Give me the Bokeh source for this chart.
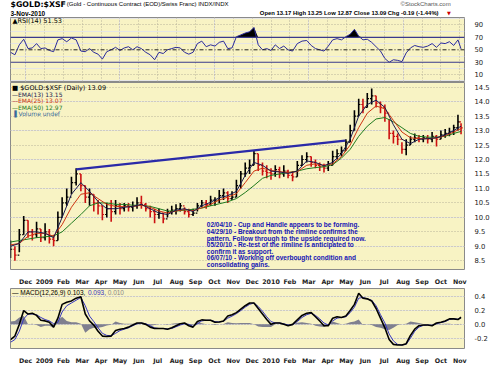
import numpy as np
import pandas as pd
from bokeh.plotting import figure
from bokeh.layouts import column
from bokeh.models import FixedTicker, Range1d, Label, Grid, Span, NumeralTickFormatter, LinearAxis
from bokeh.embed import file_html
from bokeh.resources import INLINE
from bokeh.core.properties import value

# ---------------- data ----------------
week_dates = list(pd.date_range("2008-11-07", "2010-10-29", freq="7D")) + [pd.Timestamp("2010-11-03")]

close = [8.9, 8.7, 9.4, 9.9, 9.5, 9.4, 9.6, 9.3, 9.5, 9.25,
         9.2, 10.0, 10.5, 10.7, 11.2, 11.5, 11.1, 10.7, 10.8, 10.5,
         10.4, 10.1, 10.3, 10.2, 10.4, 10.3, 10.4, 10.35, 10.4, 10.5,
         10.45, 10.3, 10.2, 10.1, 10.15, 9.95, 10.2, 10.25, 10.3, 10.4,
         10.2, 10.1, 10.15, 10.4, 10.5, 10.45, 10.6, 10.6, 10.75, 10.85,
         10.65, 10.7, 11.1, 11.5, 11.7, 11.8, 12.2, 11.8, 11.6, 11.55,
         11.5, 11.65, 11.5, 11.6, 11.45, 11.4, 11.8, 12.0, 12.1, 11.9,
         11.8, 11.75, 11.7, 11.8, 12.1, 12.2, 12.3, 12.6, 13.0, 13.5,
         13.9, 13.8, 14.1, 14.2, 13.95, 13.8, 13.6, 12.9, 12.8, 12.7,
         12.35, 12.5, 12.7, 12.75, 12.7, 12.75, 12.7, 12.8, 12.7, 12.85,
         12.9, 12.95, 13.1, 13.3, 13.09]
high = [9.2, 9.0, 9.6, 10.05, 9.9, 9.6, 9.85, 9.6, 9.8, 9.6,
        9.4, 10.2, 10.7, 11.0, 11.4, 11.7, 11.5, 11.1, 11.0, 10.8,
        10.6, 10.4, 10.5, 10.6, 10.6, 10.5, 10.5, 10.5, 10.55, 10.7,
        10.75, 10.5, 10.4, 10.3, 10.3, 10.15, 10.3, 10.4, 10.45, 10.5,
        10.35, 10.3, 10.3, 10.5, 10.6, 10.6, 10.75, 10.7, 10.95, 11.0,
        10.9, 10.9, 11.3, 11.6, 11.9, 12.0, 12.3, 12.2, 11.9, 11.8,
        11.7, 11.8, 11.75, 11.8, 11.65, 11.6, 11.95, 12.15, 12.25, 12.1,
        12.0, 11.9, 11.85, 11.95, 12.3, 12.35, 12.45, 12.7, 13.2, 13.7,
        14.1, 14.1, 14.3, 14.45, 14.2, 14.0, 13.9, 13.4, 13.0, 12.9,
        12.6, 12.7, 12.8, 12.9, 12.85, 12.85, 12.85, 12.95, 12.85, 13.0,
        13.05, 13.1, 13.2, 13.55, 13.25]
low = [8.6, 8.5, 8.8, 9.4, 9.3, 9.2, 9.3, 9.15, 9.2, 9.1,
       9.0, 9.2, 10.0, 10.4, 10.8, 11.1, 10.9, 10.5, 10.4, 10.2,
       10.1, 9.9, 10.0, 9.85, 10.1, 10.1, 10.2, 10.2, 10.2, 10.3,
       10.3, 10.2, 10.0, 9.8, 9.95, 9.8, 10.0, 10.1, 10.1, 10.2,
       10.1, 10.0, 10.05, 10.2, 10.35, 10.3, 10.4, 10.4, 10.5, 10.6,
       10.5, 10.6, 10.7, 11.0, 11.4, 11.5, 11.8, 11.6, 11.45, 11.35,
       11.3, 11.4, 11.35, 11.4, 11.35, 11.25, 11.4, 11.8, 11.9, 11.75,
       11.7, 11.6, 11.55, 11.6, 11.8, 12.0, 12.1, 12.3, 12.6, 13.0,
       13.5, 13.6, 13.8, 13.9, 13.8, 13.6, 13.3, 12.7, 12.55, 12.5,
       12.2, 12.15, 12.5, 12.6, 12.6, 12.6, 12.55, 12.6, 12.45, 12.7,
       12.75, 12.8, 12.85, 13.0, 12.87]

ema_dates = week_dates[::2]
ema13 = [9.0, 9.1, 9.5, 9.5, 9.45, 9.3, 10.0, 10.8, 11.2, 10.9,
         10.55, 10.3, 10.3, 10.35, 10.38, 10.45, 10.3, 10.15, 10.1, 10.25,
         10.3, 10.2, 10.4, 10.52, 10.68, 10.75, 10.9, 11.45, 11.9, 11.8,
         11.6, 11.57, 11.52, 11.6, 11.95, 11.9, 11.78, 11.9, 12.2, 12.7,
         13.5, 13.9, 14.05, 13.8, 13.2, 12.7, 12.55, 12.7, 12.72, 12.75,
         12.85, 13.0, 13.15]
ema25 = [9.05, 9.1, 9.35, 9.45, 9.45, 9.35, 9.75, 10.35, 10.8, 10.85,
         10.65, 10.45, 10.38, 10.37, 10.38, 10.42, 10.35, 10.22, 10.15, 10.22,
         10.27, 10.23, 10.33, 10.45, 10.6, 10.7, 10.82, 11.2, 11.6, 11.7,
         11.62, 11.58, 11.55, 11.58, 11.8, 11.85, 11.8, 11.85, 12.1, 12.5,
         13.1, 13.6, 13.85, 13.75, 13.35, 12.95, 12.75, 12.72, 12.72, 12.74,
         12.82, 12.95, 13.07]
ema50 = [9.15, 9.2, 9.25, 9.3, 9.33, 9.36, 9.5, 9.8, 10.1, 10.4,
         10.5, 10.5, 10.45, 10.45, 10.42, 10.42, 10.38, 10.3, 10.22, 10.22,
         10.25, 10.28, 10.32, 10.4, 10.47, 10.54, 10.65, 10.86, 11.1, 11.35,
         11.45, 11.5, 11.55, 11.6, 11.68, 11.72, 11.75, 11.82, 12.05, 12.35,
         12.8, 13.15, 13.4, 13.45, 13.3, 13.1, 12.9, 12.8, 12.77, 12.77,
         12.8, 12.9, 12.97]

rsi = [46, 42, 58, 67, 52, 53, 60, 52, 53, 49,
       47, 66, 68, 63, 69, 66, 48, 47, 52, 46,
       43, 35, 47, 50, 54, 49, 53, 55, 50, 55,
       52, 46, 42, 34, 46, 44, 50, 52, 54, 53,
       46, 43, 46, 60, 64, 55, 58, 56, 62, 64,
       52, 53, 71, 74, 77, 79, 86, 58, 50, 52,
       49, 58, 52, 56, 50, 48, 60, 64, 65, 57,
       52, 50, 48, 56, 66, 68, 66, 71, 75, 83,
       72, 66, 67, 62, 55, 48, 36, 30, 34, 33,
       31, 45, 53, 57, 55, 54, 56, 60, 54, 61,
       60, 63, 57, 66, 51.53]

macd = [-0.22, -0.17, 0.0, 0.2, 0.15, 0.16, 0.13, 0.06, 0.05, 0.03,
        -0.04, 0.09, 0.29, 0.32, 0.34, 0.38, 0.40, 0.15, 0.05, -0.01,
        -0.1, -0.17, -0.175, -0.17, -0.09, -0.07, -0.06, -0.04, -0.01, 0.02,
        0.02, 0.0, -0.04, -0.06, -0.06, -0.06, -0.07, -0.05, -0.02, 0.01,
        0.02, -0.02, -0.04, 0.04, 0.065, 0.06, 0.06, 0.03, 0.035, 0.05,
        0.12, 0.14, 0.17, 0.22, 0.27, 0.31, 0.31, 0.23, 0.15, 0.07,
        0.0, 0.02, 0.02, 0.0, -0.02, 0.0, 0.065, 0.13, 0.16, 0.17,
        0.11, 0.05, -0.02, -0.02, 0.09, 0.11, 0.1, 0.12, 0.2, 0.29,
        0.45, 0.38, 0.37, 0.34, 0.23, 0.09, -0.05, -0.22, -0.29, -0.3,
        -0.3, -0.28, -0.16, -0.07, -0.02, -0.01, -0.01, -0.02, 0.02, 0.03,
        0.05, 0.08, 0.08, 0.07, 0.103]
signal = [-0.26, -0.22, -0.1, 0.08, 0.15, 0.15, 0.14, 0.1, 0.07, 0.05,
          0.01, 0.03, 0.18, 0.27, 0.31, 0.35, 0.39, 0.27, 0.12, 0.04,
          -0.05, -0.13, -0.16, -0.165, -0.13, -0.09, -0.07, -0.05, -0.02, 0.01,
          0.02, 0.01, -0.02, -0.05, -0.06, -0.06, -0.065, -0.06, -0.035, -0.01,
          0.01, 0.0, -0.03, 0.01, 0.05, 0.06, 0.06, 0.04, 0.035, 0.045,
          0.09, 0.12, 0.155, 0.2, 0.25, 0.29, 0.31, 0.26, 0.19, 0.11,
          0.04, 0.02, 0.02, 0.01, -0.01, -0.005, 0.04, 0.1, 0.14, 0.16,
          0.13, 0.08, 0.02, -0.01, 0.05, 0.09, 0.1, 0.11, 0.17, 0.25,
          0.38, 0.39, 0.37, 0.35, 0.27, 0.14, 0.02, -0.14, -0.24, -0.29,
          -0.3, -0.29, -0.2, -0.1, -0.04, -0.015, -0.01, -0.015, 0.01, 0.025,
          0.04, 0.07, 0.08, 0.075, 0.093]

rim_dates = [pd.Timestamp("2009-02-20"), pd.Timestamp("2010-04-29")]
rim_values = [11.66, 12.65]

month_labels = ["Dec", "2009", "Feb", "Mar", "Apr", "May", "Jun", "Jul", "Aug", "Sep", "Oct", "Nov",
                "Dec", "2010", "Feb", "Mar", "Apr", "May", "Jun", "Jul", "Aug", "Sep", "Oct", "Nov"]
rsi_ticks = [10, 30, 50, 70, 90]
price_ticks = [8.5, 9.0, 9.5, 10.0, 10.5, 11.0, 11.5, 12.0, 12.5, 13.0, 13.5, 14.0, 14.5]
macd_ticks = [-0.2, 0.0, 0.2, 0.4]

notes = ["02/04/10 - Cup and Handle appears to be forming.",
         "04/29/10 - Breakout from the rimline confirms the",
         "pattern.  Follow through to the upside required now.",
         "05/20/10 - Re-test of the rimline is anticipated to",
         "confirm it as support.",
         "06/07/10 - Working off overbought condition and",
         "consolidating gains."]

# --------------- helpers ---------------
def mpos(d):
    d = pd.Timestamp(d)
    return (d.year - 2008) * 12 + (d.month - 12) + (d.day - 1) / d.days_in_month

x = np.array([mpos(d) for d in week_dates])
xe = np.array([mpos(d) for d in ema_dates])
close_a = np.array(close); high_a = np.array(high); low_a = np.array(low)
month_ticks = list(range(len(month_labels)))

BG = "#f8f3c4"
GRID = "#b8b39a"
FONT = value("DejaVu Sans")
W = 492
xr = Range1d(-0.8, 23.25)


def style_yaxis(ax):
    ax.axis_line_color = None
    ax.major_tick_line_color = None
    ax.minor_tick_line_color = None
    ax.major_label_text_font = "DejaVu Sans"
    ax.major_label_text_font_size = "6.8px"
    ax.major_label_text_color = "#222222"
    ax.major_label_standoff = 4


def panel(height, yr, xaxis, top=0, bottom=0):
    p = figure(width=W, height=height, x_range=xr, y_range=yr, toolbar_location=None,
               output_backend="svg", x_axis_location="below" if xaxis else None,
               y_axis_location=None, min_border_left=10, min_border_right=24,
               min_border_top=top, min_border_bottom=bottom,
               background_fill_color=BG, border_fill_color="white")
    p.outline_line_color = "#8a8a8a"
    p.add_layout(Grid(dimension=0, ticker=FixedTicker(ticks=month_ticks),
                      grid_line_color=GRID, grid_line_dash="1 2", grid_line_width=1))
    ax = LinearAxis()
    style_yaxis(ax)
    p.add_layout(ax, "right")
    if xaxis:
        p.xgrid.visible = False
        xa = p.xaxis[0]
        xa.ticker = FixedTicker(ticks=month_ticks)
        xa.major_label_overrides = {i: l for i, l in enumerate(month_labels)}
        xa.axis_line_color = None
        xa.major_tick_line_color = None
        xa.minor_tick_line_color = None
        xa.major_label_text_font = "DejaVu Sans"
        xa.major_label_text_font_style = "bold"
        xa.major_label_text_font_size = "6.3px"
        xa.major_label_text_color = "#222222"
        xa.major_label_standoff = 2
    return p, ax

# --------------- header ---------------
hdr = figure(width=W, height=17, x_range=(0, W), y_range=(0, 17), toolbar_location=None,
             output_backend="svg", x_axis_location=None, y_axis_location=None,
             min_border=0, outline_line_color=None)
hdr.grid.visible = False
hdr.text(x=[0], y=[17.5], text=["$GOLD:$XSF"], text_font=FONT, text_font_style="bold",
         text_font_size="7.8px", text_baseline="top", text_color="black")
hdr.text(x=[61], y=[16.5], text=["(Gold - Continuous Contract (EOD)/Swiss Franc) INDX/INDX"],
         text_font=value("Liberation Sans"), text_font_size="6px", text_baseline="top", text_color="black")
hdr.text(x=[0], y=[7.5], text=["3-Nov-2010"], text_font=value("Liberation Sans"), text_font_style="bold",
         text_font_size="6.5px", text_baseline="top", text_color="black")
hdr.text(x=[477], y=[17], text=["\u00a9StockCharts.com"], text_font=value("Liberation Sans"),
         text_font_size="6px", text_align="right", text_baseline="top", text_color="#555555")
hdr.text(x=[471], y=[7.5], text=["Open 13.17  High 13.25  Low 12.87  Close 13.09  Chg -0.19 (-1.44%)"],
         text_font=value("Liberation Sans"), text_font_style="bold", text_font_size="5.9px",
         text_align="right", text_baseline="top", text_color="black")
hdr.text(x=[473], y=[7.3], text=["\u25bc"], text_font=FONT, text_font_size="5px",
         text_baseline="top", text_color="#cc0000")

# --------------- RSI ---------------
pr, ar = panel(65, Range1d(-1, 102), False, top=0, bottom=1)
ar.ticker = FixedTicker(ticks=rsi_ticks)
pr.add_layout(Grid(dimension=1, ticker=FixedTicker(ticks=[10, 90]), grid_line_color=GRID,
                   grid_line_dash="1 2"))
rsi_a = np.array(rsi, dtype=float)
pr.varea(x=x, y1=np.full_like(rsi_a, 70.0), y2=np.maximum(rsi_a, 70.0), fill_color="black")
pr.add_layout(Span(location=70, dimension="width", line_color="#3a3a8c", line_width=1.2))
pr.add_layout(Span(location=30, dimension="width", line_color="#3a3a8c", line_width=1.2))
pr.add_layout(Span(location=50, dimension="width", line_color="#222222", line_width=1, line_dash="4 2 1 2"))
pr.line(x, rsi_a, line_color="#2b2b9a", line_width=1)
pr.add_layout(Label(x=-0.7, y=96, text="\u25b2RSI(14) 51.53", text_font_size="6.5px",
                    text_font="DejaVu Sans", text_baseline="middle", text_color="black"))

# --------------- price ---------------
pp, ap = panel(205, Range1d(8.2, 14.66), True, top=0, bottom=0)
ap.ticker = FixedTicker(ticks=price_ticks)
ap.formatter = NumeralTickFormatter(format="0.0")
pp.add_layout(Grid(dimension=1, ticker=FixedTicker(ticks=price_ticks),
                   grid_line_color=GRID, grid_line_dash="1 2"))
prev = np.concatenate([[close_a[0]], close_a[:-1]])
colors = np.where(close_a >= prev, "black", "#cc1111")
pp.segment(x0=x, y0=low_a, x1=x, y1=high_a, line_color=colors, line_width=1.6)
pp.segment(x0=x, y0=close_a, x1=x + 0.09, y1=close_a, line_color=colors, line_width=1.2)
pp.segment(x0=x - 0.09, y0=prev, x1=x, y1=prev, line_color=colors, line_width=1.2)
pp.line(xe, ema50, line_color="#1f7a1f", line_width=1)
pp.line(xe, ema25, line_color="#cc3311", line_width=1)
pp.line(xe, ema13, line_color="#1a1a50", line_width=1)
pp.line([mpos(d) for d in rim_dates], rim_values, line_color="#2a2aa8", line_width=2.2)
leg_items = [("\u25a0 $GOLD:$XSF (Daily) 13.09", "black", 14.47),
             ("\u2014EMA(13) 13.15", "#1a1a50", 14.25),
             ("\u2014EMA(25) 13.07", "#cc3311", 14.03),
             ("\u2014EMA(50) 12.97", "#1f7a1f", 13.81),
             ("\u2590 Volume undef", "#3a6a9a", 13.6)]
for i, (t, c, yy) in enumerate(leg_items):
    pp.add_layout(Label(x=-0.72, y=yy, text=t, text_font_size="6.5px" if i == 0 else "6px",
                        text_font="DejaVu Sans", text_baseline="middle", text_color=c))
for i, t in enumerate(notes):
    pp.add_layout(Label(x=9.6, y=9.74 - 0.228 * i, text=t, text_font="Liberation Sans",
                        text_font_style="bold", text_font_size="6.5px", text_baseline="middle",
                        text_color="#1414b4"))

# --------------- MACD ---------------
pm, am = panel(79, Range1d(-0.35, 0.52), True, top=1, bottom=0)
am.ticker = FixedTicker(ticks=macd_ticks)
am.formatter = NumeralTickFormatter(format="0.0")
pm.add_layout(Grid(dimension=1, ticker=FixedTicker(ticks=macd_ticks),
                   grid_line_color=GRID, grid_line_dash="1 2"))
macd_a = np.array(macd); sig_a = np.array(signal)
pm.varea(x=x, y1=np.zeros_like(macd_a), y2=macd_a - sig_a, fill_color="#7f7f8f")
pm.line(x, sig_a, line_color="#3535c0", line_width=1)
pm.line(x, macd_a, line_color="black", line_width=1.6)
pm.add_layout(Label(x=-0.72, y=0.465, text="\u2014 MACD(12,26,9) 0.103,", text_font_size="6.5px",
                    text_font="Liberation Sans", text_baseline="middle", text_color="black"))
pm.add_layout(Label(x=3.3, y=0.465, text="0.093,", text_font_size="6.5px",
                    text_font="Liberation Sans", text_baseline="middle", text_color="#3535c0"))
pm.add_layout(Label(x=4.35, y=0.465, text="0.010", text_font_size="6.5px",
                    text_font="Liberation Sans", text_baseline="middle", text_color="#888888"))

layout = column(hdr, pr, pp, pm, spacing=0)
open("out.html", "w").write(file_html(layout, INLINE))
